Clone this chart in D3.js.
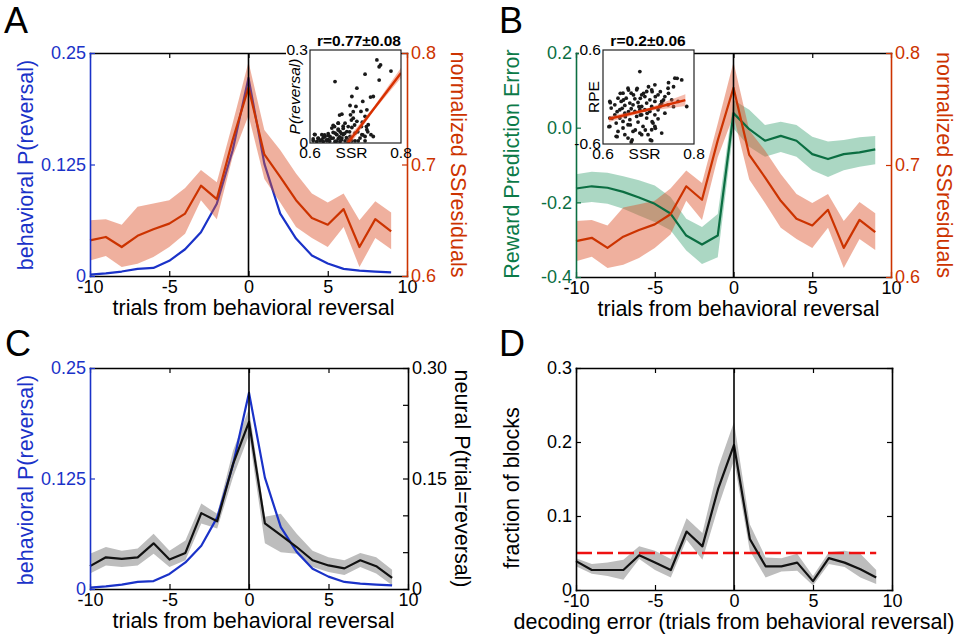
<!DOCTYPE html>
<html><head><meta charset="utf-8">
<script src="https://cdn.jsdelivr.net/npm/d3@7"></script>
<style>
body{margin:0;background:#fff}
svg{display:block}
text{font-family:"Liberation Sans",Arial,sans-serif}
</style>
</head><body>
<svg id="fig" width="960" height="639"></svg>
<script>
// ---------------- DATA ----------------
const trials = [-10,-9,-8,-7,-6,-5,-4,-3,-2,-1,0,1,2,3,4,5,6,7,8,9];
const xTickVals = [-10,-5,0,5,10];
const xTickLabels = ["-10","-5","0","5","10"];

// behavioral P(reversal)
const behavP = [0.0015,0.003,0.005,0.008,0.009,0.017,0.030,0.049,0.081,0.141,0.222,0.126,0.070,0.042,0.023,0.014,0.008,0.006,0.005,0.004];

// normalized SS residuals (mean, upper, lower)
const ssrMean = [0.632,0.635,0.626,0.636,0.642,0.647,0.656,0.681,0.669,0.722,0.769,0.709,0.689,0.668,0.652,0.646,0.660,0.626,0.651,0.640];
const ssrHi   = [0.650,0.651,0.646,0.662,0.665,0.668,0.679,0.695,0.684,0.737,0.792,0.731,0.713,0.692,0.674,0.666,0.674,0.650,0.667,0.657];
const ssrLo   = [0.614,0.618,0.608,0.611,0.617,0.626,0.638,0.668,0.651,0.707,0.744,0.687,0.666,0.644,0.634,0.626,0.644,0.608,0.634,0.624];

// reward prediction error (mean, upper, lower)
const rpeMean = [-0.163,-0.157,-0.161,-0.172,-0.187,-0.204,-0.230,-0.289,-0.313,-0.289,0.039,-0.004,-0.035,-0.022,-0.035,-0.071,-0.084,-0.071,-0.066,-0.058];
const rpeHi   = [-0.125,-0.118,-0.121,-0.130,-0.141,-0.155,-0.186,-0.244,-0.266,-0.231,0.074,0.048,0.007,0.016,0.007,-0.024,-0.037,-0.033,-0.026,-0.022];
const rpeLo   = [-0.204,-0.199,-0.204,-0.217,-0.235,-0.253,-0.275,-0.329,-0.365,-0.347,-0.002,-0.051,-0.078,-0.065,-0.078,-0.114,-0.132,-0.114,-0.105,-0.098];

// neural P(trial=reversal)
const neuralMean = [0.031,0.043,0.041,0.043,0.062,0.040,0.049,0.103,0.092,0.170,0.227,0.089,0.073,0.057,0.039,0.032,0.028,0.039,0.031,0.015];
const neuralHi   = [0.048,0.057,0.052,0.055,0.075,0.052,0.066,0.116,0.102,0.188,0.245,0.098,0.102,0.075,0.052,0.043,0.039,0.049,0.043,0.026];
const neuralLo   = [0.021,0.032,0.030,0.032,0.048,0.030,0.039,0.089,0.082,0.152,0.209,0.062,0.050,0.048,0.030,0.023,0.019,0.030,0.021,0.005];

// fraction of blocks vs decoding error
const decodeMean = [0.039,0.027,0.027,0.027,0.047,0.037,0.027,0.079,0.059,0.137,0.196,0.069,0.032,0.032,0.037,0.012,0.043,0.037,0.028,0.017];
const decodeHi   = [0.043,0.035,0.037,0.041,0.059,0.053,0.042,0.097,0.077,0.166,0.227,0.089,0.044,0.043,0.049,0.019,0.051,0.053,0.049,0.027];
const decodeLo   = [0.032,0.022,0.019,0.014,0.042,0.027,0.017,0.068,0.041,0.112,0.175,0.053,0.017,0.025,0.026,0.006,0.035,0.031,0.017,0.008];
const chanceLevel = 0.05;

// axis tick values / labels
const behavTicks = [0,0.125,0.25], behavLabels = ["0","0.125","0.25"];
const ssrTicks = [0.6,0.7,0.8], ssrLabels = ["0.6","0.7","0.8"];
const rpeTicks = [-0.4,-0.2,0,0.2], rpeLabels = ["-0.4","-0.2","0.0","0.2"];
const neuralTicks = [0,0.05,0.10,0.15,0.20,0.25,0.30], neuralLabels = ["0","","","0.15","","","0.30"];
const fracTicks = [0,0.1,0.2,0.3], fracLabels = ["0","0.1","0.2","0.3"];

// inset A scatter: SSR vs P(reversal)
const insetA_ssr = [0.747,0.755,0.752,0.778,0.721,0.655,0.752,0.703,0.733,0.739,0.692,0.716,0.701,0.688,0.712,0.725,0.670,0.689,0.721,0.695,0.703,0.715,0.677,0.662,0.651,0.673,0.692,0.648,0.662,0.666,0.681,0.655,0.640,0.626,0.725,0.728,0.734,0.721,0.633,0.618,0.611,0.673,0.688,0.699,0.710,0.651,0.662,0.640,0.607,0.622,0.677,0.692,0.706,0.721,0.629,0.670,0.684,0.644,0.659,0.699,0.714,0.739,0.637,0.615,0.655,0.666,0.684,
  0.610,0.607,0.618,0.629,0.636,0.640,0.647,0.651,0.654,0.658,0.662,0.665,0.669,0.673,0.676,0.680,0.669,0.662,0.665,0.687,0.691,0.698,0.705,0.713,0.716,0.727,0.724,0.625,0.643,0.658,0.632,0.684,0.695];
const insetA_p   = [0.268,0.252,0.246,0.232,0.222,0.198,0.203,0.177,0.148,0.150,0.150,0.134,0.118,0.121,0.102,0.107,0.093,0.091,0.086,0.080,0.070,0.067,0.064,0.064,0.057,0.054,0.050,0.048,0.045,0.037,0.037,0.032,0.030,0.027,0.043,0.059,0.027,0.021,0.021,0.016,0.027,0.027,0.021,0.032,0.016,0.016,0.014,0.011,0.007,0.007,0.007,0.007,0.007,0.007,0.005,0.016,0.011,0.021,0.027,0.007,0.027,0.021,0.007,0.005,0.005,0.005,0.003,
  0.028,0.013,0.015,0.017,0.010,0.024,0.015,0.034,0.053,0.028,0.042,0.020,0.010,0.047,0.031,0.017,0.031,0.064,0.090,0.036,0.074,0.058,0.036,0.053,0.026,0.036,0.053,0.010,0.006,0.006,0.026,0.053,0.101];
const fitA_x  = [0.68,0.74,0.80];
const fitA_y  = [-0.006,0.110,0.226];
const fitA_lo = [-0.022,0.104,0.210];
const fitA_hi = [0.010,0.116,0.243];

// inset B scatter: SSR vs RPE
const insetB_ssr = [0.681,0.758,0.773,0.714,0.655,0.674,0.696,0.707,0.644,0.662,0.685,0.721,0.736,0.692,0.633,0.651,0.670,0.703,0.615,0.640,0.659,0.677,0.714,0.729,0.626,0.648,0.685,0.707,0.743,0.784,0.618,0.637,0.662,0.692,0.721,0.670,0.648,0.626,0.685,0.714,0.736,0.615,0.637,0.659,0.696,0.721,0.629,0.677,0.710,0.655,0.615,0.644,0.688,0.714,0.633,0.666,0.707,0.681,0.729,0.629,0.655,0.707,0.662,0.685,0.648,0.699,0.729,0.751,0.743,0.765,0.674,0.644,0.696,0.703,0.725,0.666,0.681,
  0.616,0.638,0.645,0.656,0.667,0.675,0.682,0.689,0.700,0.708,0.715,0.726,0.733,0.744,0.755,0.763,0.744,0.631,0.649,0.660,0.671,0.693,0.708,0.715,0.613,0.631,0.704,0.664,0.642,0.679,0.697,0.726,0.755,0.682,0.656,0.620];
const insetB_rpe = [0.324,0.240,0.218,0.155,0.112,0.091,0.070,0.091,0.049,0.049,0.028,0.028,0.006,0.006,-0.015,-0.015,-0.023,-0.036,-0.057,-0.057,-0.078,-0.070,-0.057,-0.078,-0.100,-0.108,-0.121,-0.121,-0.100,-0.121,-0.142,-0.163,-0.150,-0.163,-0.163,-0.184,-0.206,-0.227,-0.227,-0.227,-0.206,-0.269,-0.269,-0.290,-0.269,-0.278,-0.333,-0.320,-0.333,-0.354,-0.375,-0.396,-0.375,-0.375,-0.439,-0.439,-0.418,-0.460,-0.460,-0.502,-0.524,-0.558,-0.574,-0.481,-0.481,-0.481,-0.057,-0.036,0.112,-0.057,-0.248,-0.312,-0.078,-0.184,-0.121,-0.100,-0.163,
  -0.072,0.047,-0.038,0.089,0.026,0.111,-0.017,0.047,0.131,0.068,0.004,0.068,-0.038,0.047,0.131,0.239,0.183,-0.187,-0.251,-0.357,-0.421,-0.421,-0.315,-0.400,-0.379,-0.507,-0.549,-0.549,-0.145,-0.123,-0.208,-0.102,-0.123,-0.230,-0.187,-0.272];
const fitB_x  = [0.613,0.70,0.781];
const fitB_y  = [-0.280,-0.160,-0.040];
const fitB_lo = [-0.318,-0.180,-0.115];
const fitB_hi = [-0.245,-0.140,0.035];

// ---------------- STYLE ----------------
const BLUE = "#1a32c8", RED = "#cc3300", GREEN = "#0b6e42", GREEN_TXT = "#0b7a48";
const RED_BAND = "#dc5028", GREEN_BAND = "#2e9a6a", GRAY_BAND = "#bdbdbd";
const FONT_TICK = 18, FONT_LAB = 21.5;

const svg = d3.select("#fig");

function makePanel(p) {
  const g = svg.append("g");
  const x = d3.scaleLinear().domain([-10,10]).range([p.x0,p.x1]);
  const yL = d3.scaleLinear().domain(p.yLdom).range([p.y1,p.y0]);
  const yR = d3.scaleLinear().domain(p.yRdom || p.yLdom).range([p.y1,p.y0]);
  return {g,x,yL,yR};
}

function band(g, x, y, lo, hi, fill, op) {
  const area = d3.area().x((d,i)=>x(trials[i])).y0((d,i)=>y(lo[i])).y1((d,i)=>y(hi[i]));
  g.append("path").datum(lo).attr("d", area).attr("fill", fill).attr("fill-opacity", op).attr("stroke","none");
}
function line(g, x, y, vals, color, w, dash) {
  const l = d3.line().x((d,i)=>x(trials[i])).y(d=>y(d));
  const p = g.append("path").datum(vals).attr("d", l).attr("fill","none")
    .attr("stroke", color).attr("stroke-width", w).attr("stroke-linejoin","round");
  if (dash) p.attr("stroke-dasharray", dash);
}
function zeroLine(g, x, p) {
  g.append("line").attr("x1", x(0)).attr("x2", x(0)).attr("y1", p.y1).attr("y2", p.y0)
    .attr("stroke","#000").attr("stroke-width",1.6);
}
function styleAxis(sel, color) {
  sel.select(".domain").attr("stroke", color).attr("stroke-width", 1.6).attr("stroke-linecap","square");
  sel.selectAll(".tick line").attr("stroke", color).attr("stroke-width", 1.2);
  sel.selectAll(".tick text").attr("fill", color).attr("font-size", FONT_TICK)
     .attr("font-family", '"Liberation Sans",Arial,sans-serif');
  sel.attr("font-family", null).attr("font-size", null);
}
function axes(P, p) {
  const {g,x,yL,yR} = P;
  const fmtX = d => xTickLabels[xTickVals.indexOf(d)];
  const bottom = g.append("g").attr("transform", `translate(0,${p.y1})`)
    .call(d3.axisBottom(x).tickValues(xTickVals).tickFormat(fmtX).tickSize(-5).tickSizeOuter(0).tickPadding(4));
  styleAxis(bottom, "#000");
  const top = g.append("g").attr("transform", `translate(0,${p.y0})`)
    .call(d3.axisTop(x).tickValues(xTickVals).tickFormat("").tickSize(-5).tickSizeOuter(0));
  styleAxis(top, "#000");
  const left = g.append("g").attr("transform", `translate(${p.x0},0)`)
    .call(d3.axisLeft(yL).tickValues(p.lTicks).tickFormat(d => p.lLabels[p.lTicks.indexOf(d)])
      .tickSize(-5).tickSizeOuter(0).tickPadding(4));
  styleAxis(left, p.lColor);
  const rTicks = p.rTicks || p.lTicks;
  const rLabels = p.rLabels || p.lTicks.map(()=> "");
  const right = g.append("g").attr("transform", `translate(${p.x1},0)`)
    .call(d3.axisRight(yR).tickValues(rTicks).tickFormat(d => rLabels[rTicks.indexOf(d)])
      .tickSize(-5).tickSizeOuter(0).tickPadding(4));
  styleAxis(right, p.rColor);
  g.append("text").attr("transform", `translate(${p.x0-57},${p.lLabY}) rotate(-90)`)
    .attr("text-anchor","middle").attr("font-size", FONT_LAB).attr("fill", p.lColorTxt || p.lColor)
    .text(p.lTitle);
  if (p.rTitle) {
    g.append("text").attr("transform", `translate(${p.rLabX},${(p.y0+p.y1)/2}) rotate(90)`)
      .attr("text-anchor","middle").attr("font-size", FONT_LAB).attr("fill", p.rColor)
      .text(p.rTitle);
  }
  g.append("text").attr("x", p.xLabX).attr("y", p.y1+39).attr("text-anchor","middle")
    .attr("font-size", FONT_LAB).attr("fill","#000").text(p.xTitle);
  g.append("text").attr("x", p.letterX).attr("y", p.letterY).attr("font-size", 36).attr("fill","#000").text(p.letter);
}

function inset(c) {
  const g = svg.append("g");
  const xs = d3.scaleLinear().domain([0.6,0.8]).range([c.x0,c.x1]);
  const ys = d3.scaleLinear().domain(c.ydom).range([c.y1,c.y0]);
  const id = "clip" + c.name;
  g.append("clipPath").attr("id", id).append("rect")
    .attr("x", c.x0).attr("y", c.y0).attr("width", c.x1-c.x0).attr("height", c.y1-c.y0);
  g.append("rect").attr("x", c.x0-24).attr("y", c.y0-8).attr("width", 24).attr("height", 14).attr("fill","#fff");
  g.append("rect").attr("x", c.x0).attr("y", c.y0).attr("width", c.x1-c.x0).attr("height", c.y1-c.y0)
    .attr("fill","#fff");
  const inner = g.append("g").attr("clip-path", `url(#${id})`);
  inner.selectAll("circle").data(c.sx).join("circle")
    .attr("cx", d=>xs(d)).attr("cy", (d,i)=>ys(c.sy[i])).attr("r", 1.9).attr("fill","#1a1a1a");
  const area = d3.area().x((d,i)=>xs(c.fx[i])).y0((d,i)=>ys(c.flo[i])).y1((d,i)=>ys(c.fhi[i]));
  inner.append("path").datum(c.fx).attr("d", area).attr("fill", "#e8694a").attr("fill-opacity", 0.45);
  const fl = d3.line().x((d,i)=>xs(c.fx[i])).y((d,i)=>ys(c.fy[i]));
  inner.append("path").datum(c.fx).attr("d", fl).attr("fill","none").attr("stroke", "#d83000").attr("stroke-width", 2.4);
  g.append("rect").attr("x", c.x0).attr("y", c.y0).attr("width", c.x1-c.x0).attr("height", c.y1-c.y0)
    .attr("fill","none").attr("stroke","#222").attr("stroke-width",1.2);
  const fs = 15.5;
  g.append("text").attr("x", c.x0-2).attr("y", ys(c.ydom[1])).attr("dy","0.35em").attr("text-anchor","end")
    .attr("font-size", fs).text(c.yLabels[1]);
  g.append("text").attr("x", c.x0-2).attr("y", ys(c.ydom[0])).attr("dy","0.35em").attr("text-anchor","end")
    .attr("font-size", fs).text(c.yLabels[0]);
  g.append("text").attr("x", xs(0.6)).attr("y", c.y1+15).attr("text-anchor","middle").attr("font-size", fs).text("0.6");
  g.append("text").attr("x", xs(0.8)).attr("y", c.y1+15).attr("text-anchor","middle").attr("font-size", fs).text("0.8");
  g.append("text").attr("x", (c.x0+c.x1)/2 - 4).attr("y", c.y1+15).attr("text-anchor","middle").attr("font-size", fs).text("SSR");
  g.append("text").attr("transform", `translate(${c.yLabX},${(c.y0+c.y1)/2}) rotate(-90)`)
    .attr("text-anchor","middle").attr("font-size", fs).attr("font-style", c.italic ? "italic" : "normal").text(c.yTitle);
  g.append("text").attr("x", c.titleX).attr("y", c.y0-4).attr("text-anchor","middle")
    .attr("font-size", fs).attr("font-weight","bold").text(c.title);
}

// ---------------- PANEL A ----------------
const pA = {x0:90,x1:407,y0:53,y1:276,yLdom:[0,0.25],yRdom:[0.6,0.8],
  lTicks:behavTicks,lLabels:behavLabels,lColor:BLUE,rTicks:ssrTicks,rLabels:ssrLabels,rColor:RED,
  lTitle:"behavioral P(reversal)",rTitle:"normalized SSresiduals",rLabX:451,lLabY:165,
  xTitle:"trials from behavioral reversal",xLabX:253.5,letter:"A",letterX:4,letterY:33};
const A = makePanel(pA);
line(A.g, A.x, A.yL, behavP, BLUE, 2.2);
band(A.g, A.x, A.yR, ssrLo, ssrHi, RED_BAND, 0.45);
line(A.g, A.x, A.yR, ssrMean, RED, 2.2);
zeroLine(A.g, A.x, pA);
axes(A, pA);
inset({name:"A",x0:310,x1:401,y0:50,y1:143,ydom:[0,0.3],yLabels:["0","0.3"],sx:insetA_ssr,sy:insetA_p,
  fx:fitA_x,fy:fitA_y,flo:fitA_lo,fhi:fitA_hi,yTitle:"P(reversal)",italic:true,yLabX:300,
  title:"r=0.77±0.08",titleX:359});

// ---------------- PANEL B ----------------
const pB = {x0:576,x1:891,y0:53,y1:277,yLdom:[-0.4,0.2],yRdom:[0.6,0.8],
  lTicks:rpeTicks,lLabels:rpeLabels,lColor:GREEN,lColorTxt:GREEN_TXT,rTicks:ssrTicks,rLabels:ssrLabels,rColor:RED,
  lTitle:"Reward Prediction Error",rTitle:"normalized SSresiduals",rLabX:937,lLabY:164,
  xTitle:"trials from behavioral reversal",xLabX:738.5,letter:"B",letterX:499,letterY:33};
const B = makePanel(pB);
band(B.g, B.x, B.yL, rpeLo, rpeHi, GREEN_BAND, 0.4);
band(B.g, B.x, B.yR, ssrLo, ssrHi, RED_BAND, 0.45);
line(B.g, B.x, B.yL, rpeMean, GREEN, 2.2);
line(B.g, B.x, B.yR, ssrMean, RED, 2.2);
zeroLine(B.g, B.x, pB);
axes(B, pB);
inset({name:"B",x0:603,x1:694,y0:50,y1:144,ydom:[-0.6,0.6],yLabels:["-0.6","0.6"],sx:insetB_ssr,sy:insetB_rpe,
  fx:fitB_x,fy:fitB_y,flo:fitB_lo,fhi:fitB_hi,yTitle:"RPE",italic:false,yLabX:599,
  title:"r=0.2±0.06",titleX:648});

// ---------------- PANEL C ----------------
const pC = {x0:90,x1:408,y0:368,y1:589,yLdom:[0,0.25],yRdom:[0,0.30],
  lTicks:behavTicks,lLabels:behavLabels,lColor:BLUE,rTicks:neuralTicks,rLabels:neuralLabels,rColor:"#000",
  lTitle:"behavioral P(reversal)",rTitle:"neural P(trial=reversal)",rLabX:455,lLabY:480,
  xTitle:"trials from behavioral reversal",xLabX:253.5,letter:"C",letterX:5,letterY:356};
const C = makePanel(pC);
band(C.g, C.x, C.yR, neuralLo, neuralHi, GRAY_BAND, 1);
line(C.g, C.x, C.yL, behavP, BLUE, 2.2);
line(C.g, C.x, C.yR, neuralMean, "#111", 2.2);
zeroLine(C.g, C.x, pC);
axes(C, pC);

// ---------------- PANEL D ----------------
const pD = {x0:576,x1:892,y0:368,y1:590,yLdom:[0,0.3],
  lTicks:fracTicks,lLabels:fracLabels,lColor:"#000",rColor:"#000",
  lTitle:"fraction of blocks",rTitle:null,lLabY:488,
  xTitle:"decoding error (trials from behavioral reversal)",xLabX:734,letter:"D",letterX:499,letterY:356};
const D = makePanel(pD);
band(D.g, D.x, D.yL, decodeLo, decodeHi, GRAY_BAND, 1);
line(D.g, D.x, D.yL, trials.map(()=>chanceLevel), "#ee1111", 2.4, "16,5");
line(D.g, D.x, D.yL, decodeMean, "#111", 2.2);
zeroLine(D.g, D.x, pD);
axes(D, pD);
</script>
</body></html>
